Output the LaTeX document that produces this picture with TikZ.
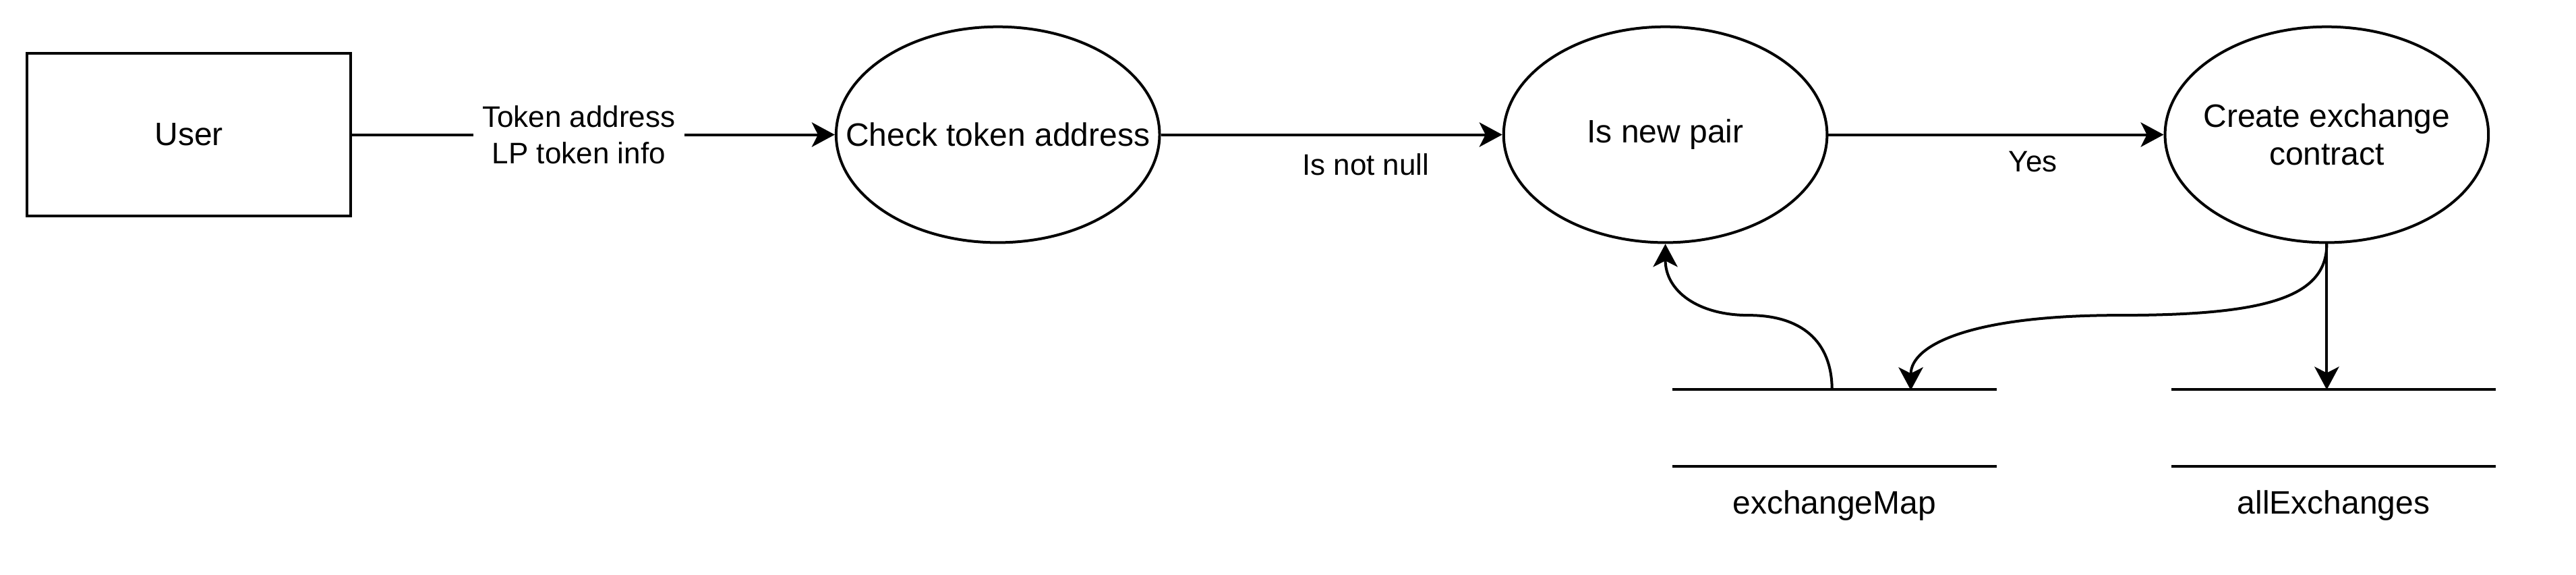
\documentclass[tikz,border=0pt]{standalone}
\usepackage{fontspec}
\setmainfont{Liberation Sans}
\usetikzlibrary{arrows.meta,positioning,shapes.geometric}

\tikzset{
  entity/.style={draw, rectangle, line width=1bp, minimum width=4.23cm, minimum height=2.12cm},
  process/.style={draw, ellipse, line width=1bp, minimum width=4.23cm, minimum height=2.82cm,
    inner xsep=-0.6cm, inner ysep=0pt, align=center},
  store/.style={minimum width=4.23cm, minimum height=0.99cm, inner sep=0pt},
  flow/.style={line width=1bp, -{Stealth[length=0.3cm, width=0.32cm, inset=0.08cm]}},
  flowlabel/.style={font=\fontsize{11bp}{13.4bp}\selectfont, align=center},
}

\begin{document}
\begin{tikzpicture}[font=\fontsize{12bp}{14bp}\selectfont]
        \useasboundingbox (0, 0) rectangle (33.69, -7.51);

        \node[entity] (user) at (2.47, -1.76) {User};
        \node[process] (check) at (13.05, -1.76) {Check token address};
        \node[process] (newpair) at (21.78, -1.76) {Is new pair};
        \node[process] (create) at (30.43, -1.76) {Create exchange\\contract};

        % data stores
        \node[store] (mapstore) at (23.99, -5.595) {};
        \node[store] (allstore) at (30.52, -5.595) {};
        \draw[line width=1bp] (mapstore.north west) -- (mapstore.north east);
        \draw[line width=1bp] (mapstore.south west) -- (mapstore.south east);
        \draw[line width=1bp] (allstore.north west) -- (allstore.north east);
        \draw[line width=1bp] (allstore.south west) -- (allstore.south east);
        \node (maplabel) at (23.99, -6.61) {exchangeMap};
        \node (alllabel) at (30.52, -6.61) {allExchanges};

        \coordinate (mapout) at (23.96, -5.10);
        \coordinate (mapin) at (24.99, -5.10);

        \draw[flow] (user) -- node[flowlabel, fill=white, pos=0.47] {Token address\\LP token info} (check);
        \draw[flow] (check) -- node[flowlabel, pos=0.6, yshift=-0.39cm] {Is not null} (newpair);
        \draw[flow] (newpair) -- node[flowlabel, pos=0.61, yshift=-0.35cm] {Yes} (create);
        \draw[flow] (mapout) .. controls (23.96, -4.45) and (23.55, -4.12) .. (22.87, -4.12)
                .. controls (22.2, -4.12) and (21.78, -3.8) .. (newpair.south);
        \draw[flow] (create.south) .. controls (30.43, -3.9) and (29.6, -4.12) .. (27.71, -4.12)
                .. controls (25.8, -4.12) and (24.99, -4.5) .. (mapin);
        \draw[flow] (create.south) -- (create.south |- allstore.north);
      \end{tikzpicture}
\end{document}
